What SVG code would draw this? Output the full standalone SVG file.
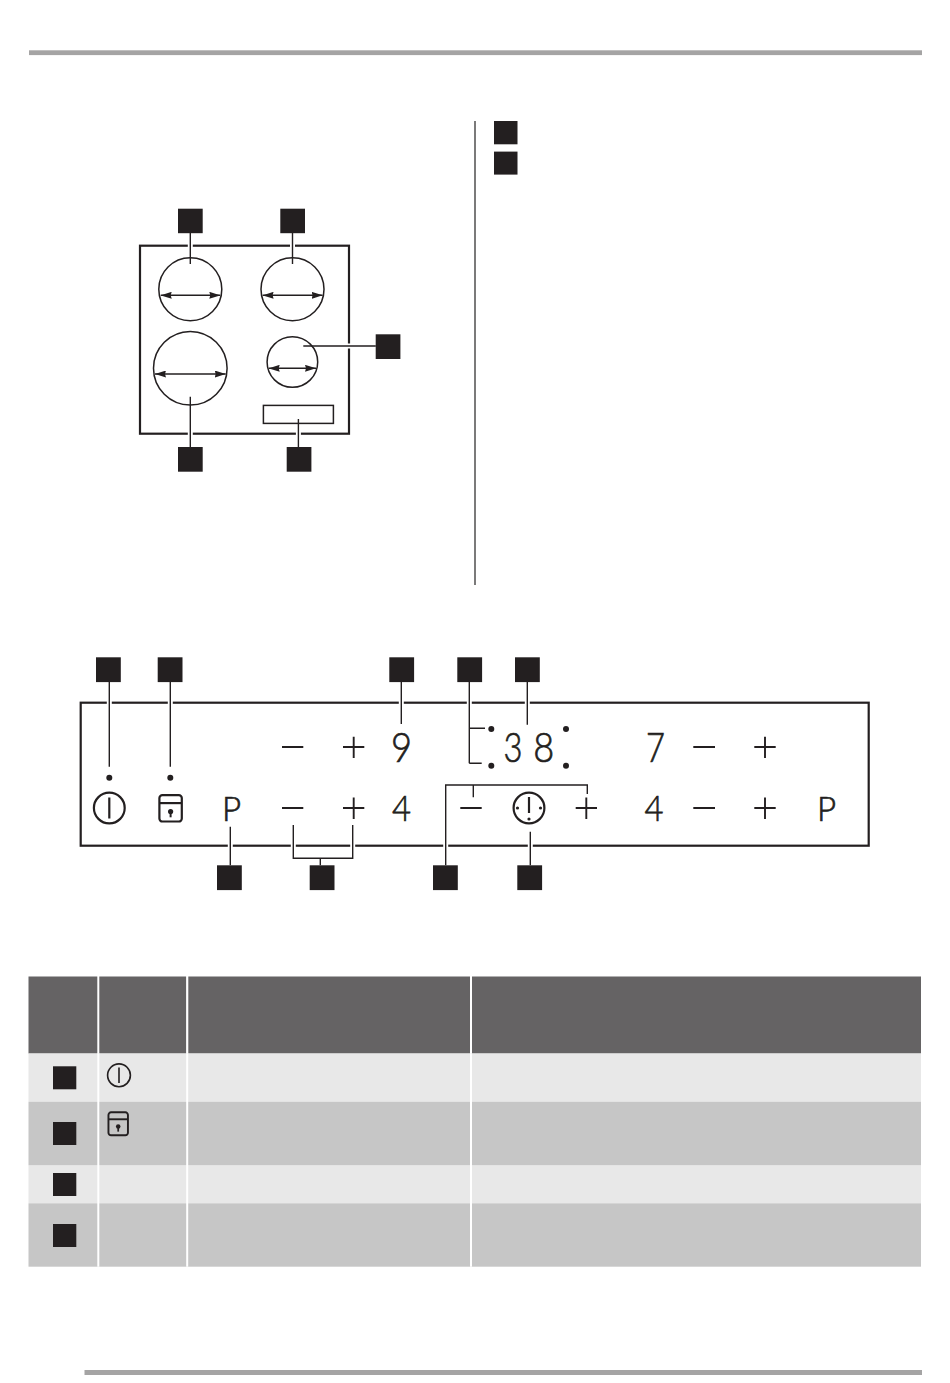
<svg xmlns="http://www.w3.org/2000/svg" width="950" height="1383" viewBox="0 0 950 1383">
<style>
.sq{fill:#231f20}
.bar{fill:#a5a4a4}
.frame{fill:none;stroke:#231f20;stroke-width:2.2}
.thin{fill:none;stroke:#231f20;stroke-width:1.5}
.ldr{fill:none;stroke:#231f20;stroke-width:1.4}
.key{fill:none;stroke:#231f20;stroke-width:1.9}
.icon{fill:none;stroke:#231f20;stroke-width:2.2}
.dot{fill:#231f20}
.hd{fill:#656364}.lt{fill:#e8e8e8}.dk{fill:#c6c6c6}
.dg{font-family:"Lato","Open Sans","Liberation Sans",sans-serif;font-weight:300;fill:#231f20;stroke:#231f20;stroke-width:.7;text-anchor:middle}
.d1{font-size:41px}.d2{font-size:35px}.pp{font-size:33px}
</style>
<defs>
<marker id="ah" markerUnits="userSpaceOnUse" markerWidth="11" markerHeight="7" refX="11" refY="3.5" orient="auto-start-reverse"><path d="M0 0L11 3.5L0 7L1 3.5Z" fill="#231f20"/></marker>
<g id="pw"><circle cx="0" cy="0" r="15.4" class="icon"/><path d="M0 -10.5V10.5" class="icon"/></g>
<g id="lk"><rect x="-11.2" y="-13.2" width="22.4" height="26.4" rx="3" class="icon"/><path d="M-11.2 -5.2H11.2" class="icon"/><circle cx="0" cy="3.2" r="2.6" class="dot"/><path d="M0 3V9" stroke="#231f20" stroke-width="2" fill="none"/></g>
</defs>
<g id="page">
<rect class="bar" x="29" y="50.3" width="893" height="4.8"/>
<rect class="bar" x="84.5" y="1370" width="837.5" height="5"/>
<rect x="474" y="121" width="2" height="464" fill="#7b7a7a"/>
</g>
<g id="note-keys">
<rect id="note-key-1" class="sq" x="494" y="121" width="23.5" height="23.3"/>
<rect id="note-key-2" class="sq" x="494" y="151.6" width="23.5" height="23"/>
</g>
<g id="hob">
<rect class="frame" x="140" y="245.7" width="209" height="188"/>
<g id="zone-1"><circle class="thin" cx="190.3" cy="289.3" r="31.5"/></g>
<g id="zone-2"><circle class="thin" cx="292.5" cy="289.3" r="31.5"/></g>
<g id="zone-3"><circle class="thin" cx="190.3" cy="368.2" r="36.8"/></g>
<g id="zone-4"><circle class="thin" cx="292.4" cy="362" r="25.3"/></g>
<g id="hob-display"><rect class="thin" x="263.4" y="405.4" width="70" height="18"/></g>
</g>
<g id="panel">
<rect class="frame" x="80.7" y="702.7" width="788" height="143"/>
<g id="indicators">
<circle class="dot" cx="109.3" cy="777.7" r="3"/><circle class="dot" cx="170.3" cy="777.7" r="3"/>
<circle class="dot" cx="491.3" cy="729" r="3"/><circle class="dot" cx="491.3" cy="765.7" r="3"/>
<circle class="dot" cx="566" cy="729" r="3"/><circle class="dot" cx="566" cy="765.7" r="3"/>
</g>
<g id="power"><use href="#pw" x="109.3" y="808"/></g>
<g id="lock"><use href="#lk" x="170.6" y="808.3"/></g>
<g id="clock"><circle cx="529" cy="808" r="15.4" class="icon"/><path d="M529 797V813" class="icon"/><circle class="dot" cx="517.5" cy="808" r="1.6"/><circle class="dot" cx="540.5" cy="808" r="1.6"/><circle class="dot" cx="529" cy="819" r="1.6"/></g>
<g id="keys">
<path class="key" d="M282 747H303.3M282 808H303.3M343 747H364.3M353.7 736.7V758M343 808H364.3M353.7 797.5V819M460.3 808H481.7M575.7 808H597M586.3 797.5V819M693.3 747H715M693.3 808H715M754.3 747H775.7M765 736.7V758M754.3 808H775.7M765 797.5V819"/>
</g>
<g id="digits">
<text class="dg d1" x="401.5" y="762" textLength="21" lengthAdjust="spacingAndGlyphs">9</text>
<text class="dg d2" x="401.5" y="820.5" textLength="19" lengthAdjust="spacingAndGlyphs">4</text>
<text class="dg d1" x="513" y="762" textLength="19" lengthAdjust="spacingAndGlyphs">3</text>
<text class="dg d1" x="543.7" y="762" textLength="21" lengthAdjust="spacingAndGlyphs">8</text>
<text class="dg d1" x="655.5" y="762" textLength="19" lengthAdjust="spacingAndGlyphs">7</text>
<text class="dg d2" x="654" y="820.5" textLength="19" lengthAdjust="spacingAndGlyphs">4</text>
<text class="dg pp" x="231.5" y="821">P</text>
<text class="dg pp" x="826.5" y="821">P</text>
</g>
</g>
<g id="connectors">
<path fill="none" stroke="#fff" stroke-width="5" d="M190.3 243V248.5M292.5 243V248.5M190.3 431V436.5M298.4 431V436.5M346 346H352M109.3 700V705.5M170.3 700V705.5M401.3 700V705.5M469.3 700V705.5M527.3 700V705.5M230.3 843V848.5M293.3 843V848.5M352.7 843V848.5M445.7 843V848.5M530.3 843V848.5"/>
<path class="ldr" d="M190.3 233V264M292.5 233V264M303.3 346H375.8M190.3 396.7V447M298.4 419V447"/>
<path class="ldr" d="M109.3 682V766.7M170.3 682V766.7M401.3 682V724M469.3 682V763.3M469.3 728.3H485M469.3 763.3H481.7M527.3 682V724.7"/>
<path class="ldr" d="M230.3 826.7V865.3M293.3 825V858.3H352.7V825M320.3 858.3V865.3M445.7 865.3V785H587.3V794M473.3 785V797.3M530.3 831.7V865.3"/>
<g id="dimension-arrows" class="ldr">
<path marker-start="url(#ah)" marker-end="url(#ah)" d="M160.7 295.3H220.3"/>
<path marker-start="url(#ah)" marker-end="url(#ah)" d="M262.6 295.3H322.6"/>
<path marker-start="url(#ah)" marker-end="url(#ah)" d="M155 374H225.7"/>
<path marker-start="url(#ah)" marker-end="url(#ah)" d="M268.7 368.3H316"/>
</g>
</g>
<g id="hob-callouts">
<rect id="c-a" class="sq" x="178" y="208.7" width="24.7" height="24.5"/>
<rect id="c-b" class="sq" x="280.3" y="208.7" width="24.7" height="24.5"/>
<rect id="c-c" class="sq" x="375.7" y="334.3" width="24.7" height="24.7"/>
<rect id="c-d" class="sq" x="178" y="447" width="24.7" height="24.7"/>
<rect id="c-e" class="sq" x="286.7" y="447" width="24.7" height="24.7"/>
</g>
<g id="panel-callouts">
<rect id="p-1" class="sq" x="96" y="657.3" width="24.8" height="24.8"/>
<rect id="p-2" class="sq" x="157.7" y="657.3" width="24.8" height="24.8"/>
<rect id="p-3" class="sq" x="389.3" y="657.3" width="24.8" height="24.8"/>
<rect id="p-4" class="sq" x="457.3" y="657.3" width="24.8" height="24.8"/>
<rect id="p-5" class="sq" x="515" y="657.3" width="24.8" height="24.8"/>
<rect id="p-6" class="sq" x="217" y="865.3" width="24.8" height="24.8"/>
<rect id="p-7" class="sq" x="309.7" y="865.3" width="24.8" height="24.8"/>
<rect id="p-8" class="sq" x="433" y="865.3" width="24.8" height="24.8"/>
<rect id="p-9" class="sq" x="517.3" y="865.3" width="24.8" height="24.8"/>
</g>
<g id="table">
<g id="head">
<rect class="hd" x="28.5" y="976.5" width="68.8" height="77"/>
<rect class="hd" x="99.3" y="976.5" width="86.8" height="77"/>
<rect class="hd" x="188.3" y="976.5" width="281.7" height="77"/>
<rect class="hd" x="472" y="976.5" width="449" height="77"/>
</g>
<g id="row-1">
<rect class="lt" x="28.5" y="1053.5" width="892.5" height="48.2"/>
<rect class="sq" x="53" y="1066.3" width="23.3" height="23"/>
<use href="#pw" transform="translate(119 1075.3) scale(.74)"/>
</g>
<g id="row-2">
<rect class="dk" x="28.5" y="1101.7" width="892.5" height="63.8"/>
<rect class="sq" x="53" y="1122" width="23.3" height="23"/>
<use href="#lk" transform="translate(118.2 1123.8) scale(.87)"/>
</g>
<g id="row-3">
<rect class="lt" x="28.5" y="1165.7" width="892.5" height="37.6"/>
<rect class="sq" x="53" y="1173" width="23.3" height="23"/>
</g>
<g id="row-4">
<rect class="dk" x="28.5" y="1203.3" width="892.5" height="63.4"/>
<rect class="sq" x="53" y="1224" width="23.3" height="23"/>
</g>
<path d="M98.3 1053.5V1266.7M187.2 1053.5V1266.7M471 1053.5V1266.7" stroke="#fff" stroke-width="2" fill="none"/>
</g>
</svg>
